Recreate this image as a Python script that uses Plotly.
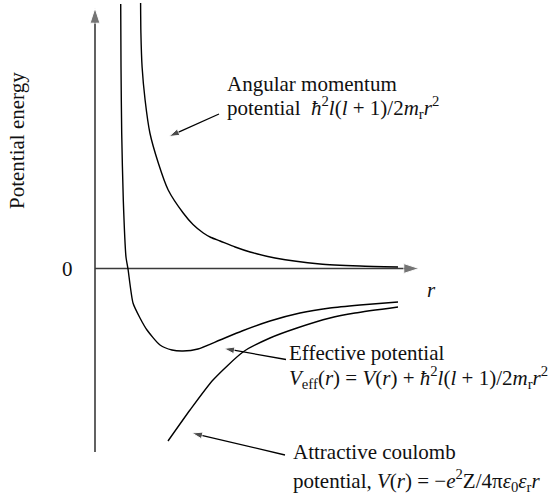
import plotly.graph_objects as go

# Angular momentum (centrifugal) potential  hbar^2 l(l+1) / 2 m_r r^2
r_centrifugal = [1.52, 1.53, 1.57, 1.67, 1.83, 2.11, 2.44, 2.94, 3.267, 3.61, 3.867,
                 4.17, 4.67, 5.17, 6.0, 7.5, 8.83, 10.1]
E_centrifugal = [10.62, 9.42, 8.06, 6.74, 5.42, 4.22, 3.14, 2.22, 1.76, 1.42, 1.24,
                 1.10, 0.86, 0.66, 0.42, 0.18, 0.10, 0.06]

# Effective potential  V(r) + hbar^2 l(l+1) / 2 m_r r^2
r_effective = [0.857, 0.867, 0.89, 0.943, 1.033, 1.1, 1.267, 1.5, 1.733, 2.167,
               2.567, 2.933, 3.433, 4.167, 4.9, 5.833, 6.833, 7.833, 8.833, 10.1]
E_effective = [10.58, 8.06, 5.42, 2.74, 0.46, -0.02, -1.38, -1.98, -2.46, -3.06,
               -3.26, -3.30, -3.22, -2.86, -2.50, -2.10, -1.78, -1.58, -1.46, -1.34]

# Attractive Coulomb potential  -e^2 Z / 4 pi eps0 eps_r r
r_coulomb = [2.433, 3.167, 3.933, 4.933, 5.833, 6.733, 7.833, 8.667, 10.1]
E_coulomb = [-6.90, -5.66, -4.46, -3.34, -2.78, -2.38, -1.98, -1.78, -1.54]

# Axis labels
y_title = "Potential energy"
x_title = "<i>r</i>"
zero_label = "0"

# Curve annotations (two lines each)
label_centrifugal = ["Angular momentum",
                     "potential  <i>ħ</i><sup>2</sup><i>l</i>(<i>l</i> + 1)/2<i>m</i><sub>r</sub><i>r</i><sup>2</sup>"]
label_effective = ["Effective potential",
                   "<i>V</i><sub>eff</sub>(<i>r</i>) = <i>V</i>(<i>r</i>) + <i>ħ</i><sup>2</sup><i>l</i>(<i>l</i> + 1)/2<i>m</i><sub>r</sub><i>r</i><sup>2</sup>"]
label_coulomb = ["Attractive coulomb",
                 "potential, <i>V</i>(<i>r</i>) = −<i>e</i><sup>2</sup>Z/4π<i>ε</i><sub>0</sub><i>ε</i><sub>r</sub><i>r</i>"]

W, H = 554, 495
PX_R, PX_E = 30.0, 25.0          # pixels per unit along r and E
ORIGIN_X, ORIGIN_Y = 95.0, 268.5  # pixel position of the origin

x_range = [-ORIGIN_X / PX_R, (W - ORIGIN_X) / PX_R]
y_range = [(ORIGIN_Y - H) / PX_E, ORIGIN_Y / PX_E]

FONT = "Liberation Serif, Times New Roman, serif"
INK = "#111111"
AXIS_INK = "#3a3a3a"

fig = go.Figure()

# coordinate axes with arrowheads
axis_r_end = 10.8
axis_E_top = 10.42
axis_E_bottom = -7.34
fig.add_trace(go.Scatter(
    x=[0, 0], y=[axis_E_bottom, axis_E_top], mode="lines+markers",
    line=dict(color=AXIS_INK, width=1.6),
    marker=dict(symbol="arrow", size=[0, 16], angleref="previous", color=AXIS_INK),
    hoverinfo="skip", showlegend=False))
fig.add_trace(go.Scatter(
    x=[0, axis_r_end], y=[0, 0], mode="lines+markers",
    line=dict(color=AXIS_INK, width=1.6),
    marker=dict(symbol="arrow", size=[0, 16], angleref="previous", color=AXIS_INK),
    hoverinfo="skip", showlegend=False))

# the three potential curves
for rr, ee in [(r_centrifugal, E_centrifugal), (r_effective, E_effective),
               (r_coulomb, E_coulomb)]:
    fig.add_trace(go.Scatter(
        x=rr, y=ee, mode="lines",
        line=dict(color="black", width=1.4, shape="spline", smoothing=0.6),
        hoverinfo="skip", showlegend=False))

# pointer arrows: (tail r, tail E, tip r, tip E)
pointers = [(4.133, 6.18, 2.467, 5.28),
            (6.367, -3.64, 4.30, -3.20),
            (6.333, -7.46, 3.233, -6.58)]
for tr, te, hr, he in pointers:
    fig.add_trace(go.Scatter(
        x=[tr, hr], y=[te, he], mode="lines+markers",
        line=dict(color="black", width=1.3),
        marker=dict(symbol="arrow", size=[0, 11], angleref="previous", color="black"),
        hoverinfo="skip", showlegend=False))

def add_text(x, y, text, **kw):
    fig.add_annotation(x=x, y=y, xref="x", yref="y", text=text, showarrow=False,
                       font=dict(family=FONT, size=21, color=INK), **kw)

# multi-line labels, one annotation per line
for (x0, y1, y2), lines in [((4.33, 7.38, 6.44), label_centrifugal),
                            ((6.4, -3.38, -4.36), label_effective),
                            ((6.53, -7.34, -8.46), label_coulomb)]:
    add_text(x0, y1, lines[0], xanchor="left", yanchor="middle")
    add_text(x0, y2, lines[1], xanchor="left", yanchor="middle")

add_text(-0.93, 0.0, zero_label, xanchor="center", yanchor="middle")
add_text(11.23, -0.86, x_title, xanchor="center", yanchor="middle")
add_text(-2.6, 5.1, y_title, xanchor="center", yanchor="middle", textangle=-90)

fig.update_layout(
    width=W, height=H, margin=dict(l=0, r=0, t=0, b=0),
    paper_bgcolor="white", plot_bgcolor="white",
    xaxis=dict(range=x_range, visible=False, fixedrange=True),
    yaxis=dict(range=y_range, visible=False, fixedrange=True),
)

fig.write_html("out.html")
